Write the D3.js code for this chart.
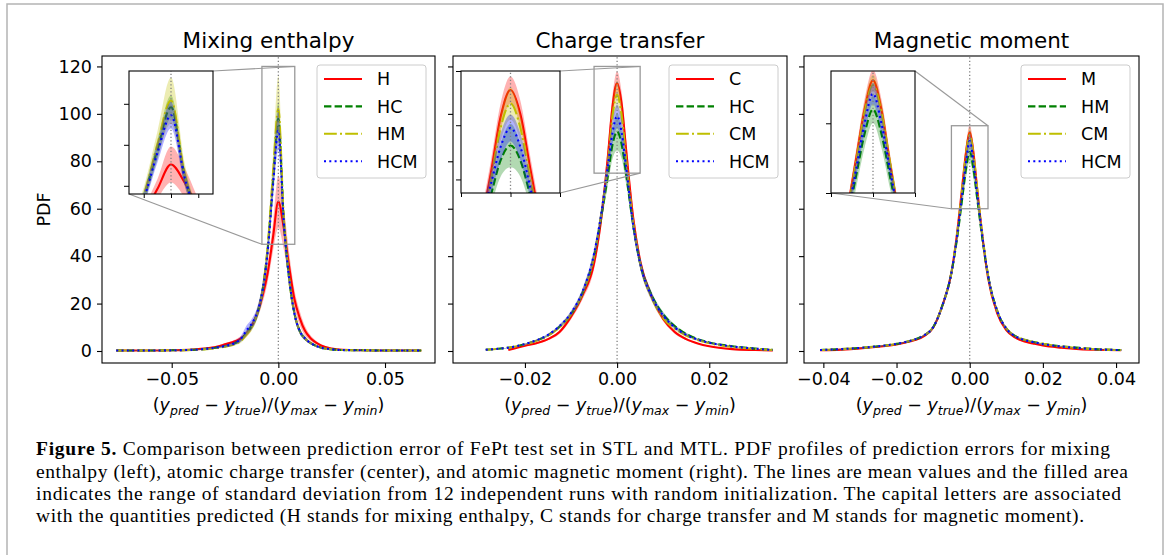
<!DOCTYPE html>
<html>
<head>
<meta charset="utf-8">
<script src="https://cdn.jsdelivr.net/npm/d3@7"></script>
<style>
  body { margin: 0; background: #fff; }
  svg { display: block; }
</style>
</head>
<body>
<svg id="fig" width="1170" height="555"></svg>
<script>
// ---- Mixing enthalpy panel ----
const enthX = [-0.076, -0.06, -0.05, -0.04, -0.035, -0.03, -0.025, -0.02, -0.0175, -0.015, -0.0125, -0.01, -0.0075, -0.005, -0.0025, 0, 0.0025, 0.005, 0.0075, 0.01, 0.0125, 0.015, 0.0175, 0.02, 0.025, 0.03, 0.04, 0.05, 0.067];
const enthH      = [0.2, 0.2, 0.3, 0.6, 1.0, 1.6, 2.8, 4.2, 5.3, 7.2, 10.5, 15.5, 23, 33, 48, 63, 52, 36, 22, 14, 8.5, 5.5, 3.6, 2.3, 1.0, 0.5, 0.3, 0.2, 0.2];
const enthHstd   = [0.1, 0.1, 0.1, 0.2, 0.3, 0.4, 0.6, 0.8, 1.0, 1.2, 1.5, 2, 3, 4, 6, 11, 9, 6, 4, 3, 2, 1.2, 0.8, 0.5, 0.3, 0.2, 0.1, 0.1, 0.1];
const enthHC     = [0.2, 0.2, 0.3, 0.5, 0.8, 1.3, 2.0, 3.4, 4.8, 7.5, 10.5, 15.5, 25, 43, 72, 98, 56, 31, 16, 8.5, 5.3, 3.4, 2.2, 1.4, 0.7, 0.4, 0.3, 0.2, 0.2];
const enthHCstd  = [0.1, 0.1, 0.1, 0.2, 0.2, 0.3, 0.4, 0.6, 0.8, 1.2, 1.5, 2, 3, 4, 6, 7, 5, 3, 2, 1.2, 0.8, 0.5, 0.4, 0.3, 0.2, 0.1, 0.1, 0.1, 0.1];
const enthHM     = [0.2, 0.2, 0.3, 0.5, 0.7, 1.1, 1.8, 3.0, 4.3, 7.0, 10.0, 15.5, 25, 44, 75, 102, 57, 31, 16, 8.5, 5.3, 3.4, 2.2, 1.4, 0.7, 0.4, 0.3, 0.2, 0.2];
const enthHMstd  = [0.1, 0.1, 0.1, 0.2, 0.2, 0.3, 0.4, 0.6, 0.8, 1.2, 1.5, 2.2, 3.5, 5, 8, 14, 7, 4, 2, 1.2, 0.8, 0.5, 0.4, 0.3, 0.2, 0.1, 0.1, 0.1, 0.1];
const enthHCM    = [0.2, 0.2, 0.3, 0.5, 0.8, 1.3, 2.1, 3.5, 5.2, 8.6, 11.5, 16, 25, 42, 70, 93, 55, 31, 16, 8.5, 5.3, 3.4, 2.2, 1.4, 0.7, 0.4, 0.3, 0.2, 0.2];
const enthHCMstd = [0.1, 0.1, 0.1, 0.2, 0.2, 0.3, 0.5, 0.8, 1.2, 2, 2, 2.2, 3, 4, 6, 8, 5, 3, 2, 1.2, 0.8, 0.5, 0.4, 0.3, 0.2, 0.1, 0.1, 0.1, 0.1];

// ---- Charge transfer panel ----
const chargeX = [-0.0285, -0.025, -0.0236, -0.02, -0.0175, -0.015, -0.0125, -0.01, -0.0075, -0.005, -0.0035, -0.002, -0.001, 0, 0.001, 0.002, 0.0035, 0.005, 0.0075, 0.01, 0.0125, 0.015, 0.0175, 0.02, 0.025, 0.03, 0.0338];
const chargeC      = [null, null, 0.4, 2.2, 3.3, 5, 8, 14.5, 23.5, 37, 55, 82, 103, 113, 104, 84, 56, 38, 23, 13.5, 8, 5, 3.2, 2, 0.8, 0.4, 0.2];
const chargeCstd   = [null, null, 0.1, 0.3, 0.4, 0.5, 0.8, 1.2, 1.8, 2.5, 3.5, 4.5, 5, 5, 5, 4.5, 3.5, 2.5, 1.6, 1, 0.7, 0.5, 0.3, 0.2, 0.1, 0.1, 0.1];
const chargeHC     = [0.5, 1.1, 1.4, 2.9, 4.4, 6.6, 10.2, 15.5, 24.5, 40, 56, 74, 87, 92.5, 87, 74, 53, 37, 23.5, 15.5, 10.5, 7.2, 5.0, 3.6, 2.0, 1.0, 0.5];
const chargeHCstd  = [0.1, 0.1, 0.1, 0.3, 0.4, 0.5, 0.7, 1, 1.5, 2.2, 3, 4, 6, 8, 6, 4, 3, 2.2, 1.5, 1, 0.7, 0.5, 0.4, 0.3, 0.2, 0.1, 0.1];
const chargeCM     = [0.5, 1.1, 1.4, 2.8, 4.3, 6.5, 10, 15.5, 24.5, 40, 57, 79, 99, 108, 99, 80, 54, 37, 22.5, 14, 9.5, 6.5, 4.6, 3.3, 1.7, 0.9, 0.4];
const chargeCMstd  = [0.1, 0.1, 0.1, 0.3, 0.4, 0.5, 0.7, 1, 1.5, 2.2, 3, 4, 5, 6, 5, 4, 3, 2.2, 1.5, 1, 0.8, 0.6, 0.5, 0.4, 0.2, 0.1, 0.1];
const chargeHCM    = [0.5, 1.1, 1.4, 2.9, 4.5, 6.8, 10.5, 16, 25, 41, 57, 78, 92, 99, 92, 77, 53, 37, 23, 15, 10, 6.8, 4.8, 3.5, 1.9, 1.0, 0.4];
const chargeHCMstd = [0.1, 0.1, 0.1, 0.3, 0.4, 0.5, 0.7, 1, 1.5, 2.2, 3, 4, 5, 5, 5, 4, 3, 2.2, 1.5, 1, 0.7, 0.5, 0.4, 0.3, 0.2, 0.1, 0.1];

// ---- Magnetic moment panel ----
const magX = [-0.0409, -0.035, -0.03, -0.025, -0.02, -0.0175, -0.015, -0.0125, -0.01, -0.0075, -0.005, -0.0035, -0.002, -0.001, 0, 0.001, 0.002, 0.0035, 0.005, 0.0075, 0.01, 0.0125, 0.015, 0.0175, 0.02, 0.025, 0.03, 0.035, 0.0414];
const magM      = [0.3, 0.6, 1.1, 1.8, 2.8, 3.6, 4.6, 6.3, 9.8, 19, 33, 49, 70, 84, 92.3, 84, 69, 48, 31, 16, 8.8, 5.6, 4.0, 3.1, 2.3, 1.4, 0.8, 0.5, 0.3];
const magMstd   = [0.1, 0.1, 0.1, 0.2, 0.2, 0.3, 0.3, 0.4, 0.6, 1, 1.5, 2, 2.5, 3, 3, 3, 2.5, 2, 1.5, 1, 0.6, 0.4, 0.3, 0.3, 0.2, 0.2, 0.1, 0.1, 0.1];
const magHM     = [0.4, 0.8, 1.3, 2.0, 3.0, 3.8, 4.9, 6.6, 10, 19, 33, 47, 65, 77, 84, 77, 65, 47, 32, 17, 9.5, 6.3, 4.7, 3.8, 3.0, 2.0, 1.3, 0.7, 0.4];
const magHMstd  = [0.1, 0.1, 0.1, 0.2, 0.2, 0.3, 0.3, 0.4, 0.6, 1, 2, 2.5, 3.5, 4, 4, 4, 3.5, 2.5, 2, 1, 0.6, 0.4, 0.3, 0.3, 0.2, 0.2, 0.1, 0.1, 0.1];
const magCM     = [0.4, 0.8, 1.3, 2.0, 3.0, 3.8, 4.9, 6.6, 10, 19, 33, 48.5, 69, 83, 91, 83, 69, 48.5, 32, 17, 9.5, 6.3, 4.7, 3.8, 3.0, 1.9, 1.2, 0.7, 0.4];
const magCMstd  = [0.1, 0.1, 0.1, 0.2, 0.2, 0.3, 0.3, 0.4, 0.6, 1, 1.5, 2, 2.5, 3, 3, 3, 2.5, 2, 1.5, 1, 0.6, 0.4, 0.3, 0.3, 0.2, 0.2, 0.1, 0.1, 0.1];
const magHCM    = [0.4, 0.8, 1.3, 2.0, 3.0, 3.8, 4.9, 6.6, 10, 19, 33, 48, 67, 80, 88.5, 80, 67, 48, 32, 17, 9.5, 6.2, 4.6, 3.7, 2.9, 1.9, 1.2, 0.7, 0.4];
const magHCMstd = [0.1, 0.1, 0.1, 0.2, 0.2, 0.3, 0.3, 0.4, 0.6, 1, 1.5, 2, 2.5, 3, 3, 3, 2.5, 2, 1.5, 1, 0.6, 0.4, 0.3, 0.3, 0.2, 0.2, 0.1, 0.1, 0.1];

const titles = ["Mixing enthalpy", "Charge transfer", "Magnetic moment"];
const legendLabels = [["H", "HC", "HM", "HCM"], ["C", "HC", "CM", "HCM"], ["M", "HM", "CM", "HCM"]];
const yTicks = [0, 20, 40, 60, 80, 100, 120];
const xTicks = [[-0.05, 0, 0.05], [-0.02, 0, 0.02], [-0.04, -0.02, 0, 0.02, 0.04]];

const captionLines = [
  "Comparison between prediction error of FePt test set in STL and MTL. PDF profiles of prediction errors for mixing",
  "enthalpy (left), atomic charge transfer (center), and atomic magnetic moment (right). The lines are mean values and the filled area",
  "indicates the range of standard deviation from 12 independent runs with random initialization. The capital letters are associated",
  "with the quantities predicted (H stands for mixing enthalpy, C stands for charge transfer and M stands for magnetic moment)."
];

// line styles: matplotlib r-, g--, y-., b:
const styles = [
  { color: "#ff0000", dash: null },
  { color: "#008000", dash: "7.4,3.2" },
  { color: "#bfbf00", dash: "12.8,3.2,2,3.2" },
  { color: "#0000ff", dash: "2,3.3" }
];

const panels = [
  {
    left: 102, right: 435, xlim: [-0.08268, 0.07344], x: enthX,
    series: [[enthH, enthHstd], [enthHC, enthHCstd], [enthHM, enthHMstd], [enthHCM, enthHCMstd]],
    inset: { box: [129, 71, 213, 194], xlim: [-0.0077, 0.0077], ylim: [45, 120], yticks: [50, 75, 100], xticks: [-0.005, 0, 0.005], corners: [1, 3] }
  },
  {
    left: 453, right: 787, xlim: [-0.03561, 0.03687], x: chargeX,
    series: [[chargeC, chargeCstd], [chargeHC, chargeHCstd], [chargeCM, chargeCMstd], [chargeHCM, chargeHCMstd]],
    inset: { box: [461, 71, 560, 193], xlim: [-0.005, 0.005], ylim: [75, 120], yticks: [80, 100, 120], xticks: [-0.005, 0, 0.005], corners: [1, 4] }
  },
  {
    left: 804, right: 1139, xlim: [-0.04529, 0.04627], x: magX,
    series: [[magM, magMstd], [magHM, magHMstd], [magCM, magCMstd], [magHCM, magHCMstd]],
    inset: { box: [831, 71, 915, 193], xlim: [-0.005, 0.005], ylim: [60, 95], yticks: [60, 80], xticks: [-0.005, 0, 0.005], corners: [1, 3] }
  }
];

const axTop = 56, axBottom = 363;
const font = "DejaVu Sans, sans-serif";
const svg = d3.select("#fig");
const defs = svg.append("defs");

// figure frame (light gray border around the figure + caption)
svg.append("path")
  .attr("d", "M7,560 V4 H1163 V560")
  .attr("fill", "none")
  .attr("stroke", "#b4b4b4")
  .attr("stroke-width", 1.5);

const y = d3.scaleLinear().domain([-5.06, 124.4]).range([axBottom, axTop]);

function drawCurves(g, xs, ys, p, clipId) {
  const cg = g.append("g").attr("clip-path", `url(#${clipId})`);
  p.series.forEach(([mean, std], i) => {
    const pts = p.x.map((xv, k) => ({ x: xv, m: mean[k], s: std[k] }));
    const area = d3.area()
      .defined(d => d.m != null)
      .x(d => xs(d.x))
      .y0(d => ys(d.m - d.s))
      .y1(d => ys(d.m + d.s))
      .curve(d3.curveMonotoneX);
    const line = d3.line()
      .defined(d => d.m != null)
      .x(d => xs(d.x))
      .y(d => ys(d.m))
      .curve(d3.curveMonotoneX);
    cg.append("path")
      .attr("d", area(pts))
      .attr("fill", styles[i].color)
      .attr("fill-opacity", 0.3);
    cg.append("path")
      .attr("d", line(pts))
      .attr("fill", "none")
      .attr("stroke", styles[i].color)
      .attr("stroke-width", 2.1)
      .attr("stroke-dasharray", styles[i].dash);
  });
  // dotted zero line
  cg.append("line")
    .attr("x1", xs(0)).attr("x2", xs(0))
    .attr("y1", ys.range()[0]).attr("y2", ys.range()[1])
    .attr("stroke", "#808080")
    .attr("stroke-width", 1.3)
    .attr("stroke-dasharray", "1.3,2.2");
}

panels.forEach((p, pi) => {
  const x = d3.scaleLinear().domain(p.xlim).range([p.left, p.right]);
  const clipId = "clip" + pi;
  defs.append("clipPath").attr("id", clipId)
    .append("rect").attr("x", p.left).attr("y", axTop)
    .attr("width", p.right - p.left).attr("height", axBottom - axTop);

  const g = svg.append("g");
  drawCurves(g, x, y, p, clipId);

  // axes frame
  g.append("rect")
    .attr("x", p.left).attr("y", axTop)
    .attr("width", p.right - p.left).attr("height", axBottom - axTop)
    .attr("fill", "none").attr("stroke", "#000").attr("stroke-width", 1.1);

  // x axis
  const xa = g.append("g")
    .attr("transform", `translate(0,${axBottom})`)
    .call(d3.axisBottom(x).tickValues(xTicks[pi]).tickSize(5).tickPadding(5).tickFormat(d3.format(".2f")));
  xa.select(".domain").remove();
  xa.selectAll("text").attr("font-size", 17.5).attr("font-family", font).attr("fill", "#000");
  xa.selectAll("line").attr("stroke-width", 1.1);

  // y axis (labels only on the first panel, shared y)
  const ya = g.append("g")
    .attr("transform", `translate(${p.left},0)`)
    .call(d3.axisLeft(y).tickValues(yTicks).tickSize(5).tickPadding(5)
      .tickFormat(pi === 0 ? d3.format("d") : () => ""));
  ya.select(".domain").remove();
  ya.selectAll("text").attr("font-size", 17.5).attr("font-family", font).attr("fill", "#000");
  ya.selectAll("line").attr("stroke-width", 1.1);

  // title
  g.append("text")
    .attr("x", (p.left + p.right) / 2).attr("y", 48)
    .attr("text-anchor", "middle")
    .attr("font-family", font).attr("font-size", 21.5)
    .text(titles[pi]);

  // x label (mathtext style)
  const xl = g.append("text")
    .attr("x", (p.left + p.right) / 2).attr("y", 411)
    .attr("text-anchor", "middle")
    .attr("font-family", font).attr("font-size", 17.5);
  const parts = [["(", 0], ["y", 1], ["pred", 2], [" \u2212 ", 0], ["y", 1], ["true", 2], [")/(", 0], ["y", 1], ["max", 2], [" \u2212 ", 0], ["y", 1], ["min", 2], [")", 0]];
  let shifted = false;
  parts.forEach(([t, k]) => {
    const ts = xl.append("tspan").text(t);
    if (k > 0) ts.attr("font-style", "italic");
    if (k === 2) { ts.attr("font-size", 12.5).attr("dy", 4); shifted = true; }
    else if (shifted) { ts.attr("dy", -4); shifted = false; }
  });

  // mark inset rectangle in main axes
  const ins = p.inset;
  const rx0 = x(ins.xlim[0]), rx1 = x(ins.xlim[1]);
  const ry0 = y(ins.ylim[1]), ry1 = y(ins.ylim[0]);
  g.append("rect")
    .attr("x", rx0).attr("y", ry0)
    .attr("width", rx1 - rx0).attr("height", ry1 - ry0)
    .attr("fill", "none").attr("stroke", "#999").attr("stroke-width", 1.3);

  const [bx0, by0, bx1, by1] = ins.box;
  const cornerIns = { 1: [bx1, by0], 2: [bx0, by0], 3: [bx0, by1], 4: [bx1, by1] };
  const cornerRect = { 1: [rx1, ry0], 2: [rx0, ry0], 3: [rx0, ry1], 4: [rx1, ry1] };
  ins.corners.forEach(c => {
    g.append("line")
      .attr("x1", cornerIns[c][0]).attr("y1", cornerIns[c][1])
      .attr("x2", cornerRect[c][0]).attr("y2", cornerRect[c][1])
      .attr("stroke", "#999").attr("stroke-width", 1.1);
  });

  // inset axes
  const xi = d3.scaleLinear().domain(ins.xlim).range([bx0, bx1]);
  const yi = d3.scaleLinear().domain(ins.ylim).range([by1, by0]);
  const insClip = "iclip" + pi;
  defs.append("clipPath").attr("id", insClip)
    .append("rect").attr("x", bx0).attr("y", by0)
    .attr("width", bx1 - bx0).attr("height", by1 - by0);
  const ig = g.append("g");
  ig.append("rect")
    .attr("x", bx0).attr("y", by0)
    .attr("width", bx1 - bx0).attr("height", by1 - by0)
    .attr("fill", "#fff");
  drawCurves(ig, xi, yi, p, insClip);
  ig.append("rect")
    .attr("x", bx0).attr("y", by0)
    .attr("width", bx1 - bx0).attr("height", by1 - by0)
    .attr("fill", "none").attr("stroke", "#000").attr("stroke-width", 1.1);
  const ixa = ig.append("g").attr("transform", `translate(0,${by1})`)
    .call(d3.axisBottom(xi).tickValues(ins.xticks).tickSize(4).tickFormat(() => ""));
  ixa.select(".domain").remove();
  const iya = ig.append("g").attr("transform", `translate(${bx0},0)`)
    .call(d3.axisLeft(yi).tickValues(ins.yticks).tickSize(5).tickFormat(() => ""));
  iya.select(".domain").remove();

  // legend
  const lw = 109, lh = 113;
  const lx = p.right - 9 - lw, ly = 65;
  const lg = g.append("g");
  lg.append("rect")
    .attr("x", lx).attr("y", ly).attr("width", lw).attr("height", lh)
    .attr("rx", 3)
    .attr("fill", "#fff").attr("fill-opacity", 0.8)
    .attr("stroke", "#cccccc").attr("stroke-width", 1);
  legendLabels[pi].forEach((lab, i) => {
    const cy = ly + 14 + i * 27.4;
    lg.append("line")
      .attr("x1", lx + 7).attr("x2", lx + 45)
      .attr("y1", cy).attr("y2", cy)
      .attr("stroke", styles[i].color).attr("stroke-width", 2.1)
      .attr("stroke-dasharray", styles[i].dash);
    lg.append("text")
      .attr("x", lx + 60).attr("y", cy).attr("dy", "0.36em")
      .attr("font-family", font).attr("font-size", 17.5)
      .text(lab);
  });
});

// y label
svg.append("text")
  .attr("transform", `translate(50,${(axTop + axBottom) / 2}) rotate(-90)`)
  .attr("text-anchor", "middle")
  .attr("font-family", font).attr("font-size", 17.5)
  .text("PDF");

// caption
const capFont = "Liberation Serif, Times New Roman, serif";
const capBase = [455, 477.5, 500, 522];
const capEnd = [1110, 1128, 1121, 1084];
captionLines.forEach((t, i) => {
  const tx = svg.append("text")
    .attr("x", 36).attr("y", capBase[i])
    .attr("font-family", capFont).attr("font-size", 19.5)
    .attr("textLength", capEnd[i] - 36)
    .attr("lengthAdjust", "spacing");
  if (i === 0) {
    tx.append("tspan").attr("font-weight", "bold").text("Figure 5.");
    tx.append("tspan").text(" " + t);
  } else {
    tx.text(t);
  }
});
</script>
</body>
</html>
